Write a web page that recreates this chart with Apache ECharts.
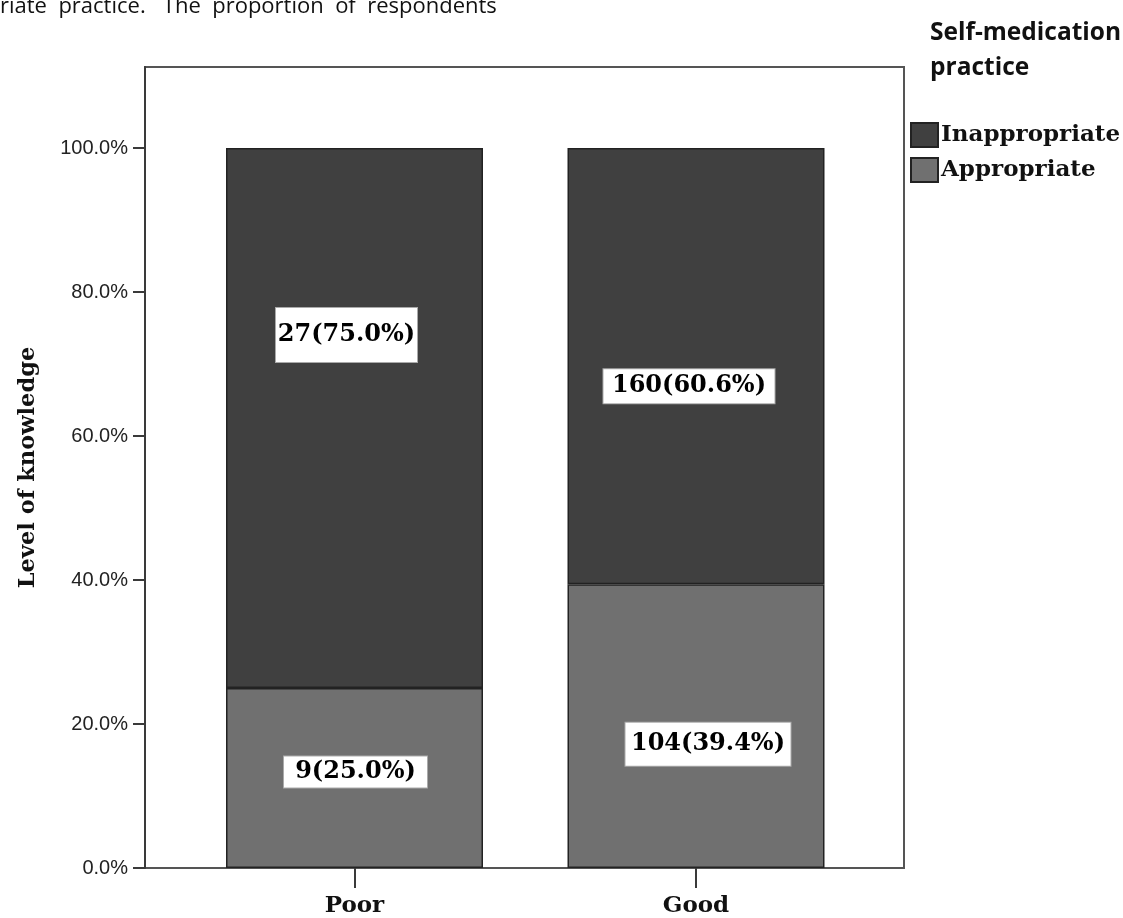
<!DOCTYPE html>
<html>
<head>
<meta charset="utf-8">
<script src="https://cdn.jsdelivr.net/npm/echarts@6/dist/echarts.min.js"></script>
<style>
  html, body { margin: 0; padding: 0; background: #fff; }
  #chart { width: 1123px; height: 918px; }
</style>
</head>
<body>
<div id="chart"></div>
<script>
// data
const categories = ['Poor', 'Good'];
const appropriatePct = [25.0, 39.4];
const inappropriatePct = [75.0, 60.6];
const appropriateN = [9, 104];
const inappropriateN = [27, 160];
const yTicks = [0, 20, 40, 60, 80, 100];

// label boxes were dragged around by hand in the original, so keep their placement here
const appLabelBox = [
  { offset: [1, -6], width: 143, lineHeight: 31 },
  { offset: [12, 18], width: 165, lineHeight: 43 }
];
const inappLabelBox = [
  { offset: [-8, -83], width: 141, lineHeight: 54 },
  { offset: [-7, 20], width: 171, lineHeight: 34 }
];

const serif = 'DejaVu Serif';
const axisColor = '#3a3a3a';
const yMax = 111.25;

const chart = echarts.init(document.getElementById('chart'));

function barData(pct, boxes) {
  return pct.map((v, i) => ({
    value: v,
    label: {
      offset: boxes[i].offset,
      width: boxes[i].width,
      lineHeight: boxes[i].lineHeight
    }
  }));
}

const labelBase = {
  show: true,
  position: 'inside',
  fontFamily: serif,
  fontWeight: 'bold',
  fontSize: 24,
  color: '#000',
  backgroundColor: '#fff',
  borderColor: '#aaa',
  borderWidth: 1,
  padding: 0,
  align: 'center',
  verticalAlign: 'middle'
};

const option = {
  animation: false,
  backgroundColor: '#fff',
  graphic: [
    {
      type: 'text',
      left: 0,
      top: -4,
      style: {
        text: 'riate  practice.   The  proportion  of  respondents',
        fontFamily: 'Open Sans',
        fontSize: 22,
        fill: '#111'
      }
    },
    {
      type: 'text',
      left: 930,
      top: 16,
      style: {
        text: 'Self-medication\npractice',
        fontFamily: 'Open Sans',
        fontWeight: 'bold',
        fontSize: 24.5,
        lineHeight: 35,
        fill: '#111'
      }
    }
  ],
  legend: {
    data: ['Inappropriate', 'Appropriate'],
    orient: 'vertical',
    left: 905,
    top: 117,
    itemWidth: 27,
    itemHeight: 24,
    itemGap: 9,
    icon: 'rect',
    textStyle: {
      fontFamily: serif,
      fontWeight: 'bold',
      fontSize: 23,
      color: '#111',
      padding: [0, 0, 0, -2]
    }
  },
  grid: [
    // outer frame with the y axis
    { left: 145, right: 219, top: 67, bottom: 50, show: true, borderColor: '#555', borderWidth: 2 },
    // bar area, narrower so the two bars sit where SPSS put them
    { left: 183.75, right: 256.25, top: 67, bottom: 50 }
  ],
  xAxis: [
    { type: 'value', gridIndex: 0, show: false, min: 0, max: 1 },
    {
      type: 'category',
      gridIndex: 1,
      data: categories,
      axisLine: { show: false },
      axisTick: {
        show: true,
        alignWithLabel: true,
        length: 20,
        lineStyle: { color: axisColor, width: 2 }
      },
      axisLabel: {
        margin: 27,
        fontFamily: serif,
        fontWeight: 'bold',
        fontSize: 23,
        color: '#111'
      }
    }
  ],
  yAxis: [
    {
      type: 'value',
      gridIndex: 0,
      min: 0,
      max: yMax,
      name: 'Level of knowledge',
      nameLocation: 'middle',
      nameGap: 105,
      nameTextStyle: {
        fontFamily: serif,
        fontWeight: 'bold',
        fontSize: 22.5,
        color: '#111'
      },
      splitLine: { show: false },
      axisLine: { show: true, lineStyle: { color: axisColor, width: 2 } },
      axisTick: {
        show: true,
        length: 12,
        customValues: yTicks,
        lineStyle: { color: axisColor, width: 2 }
      },
      axisLabel: {
        customValues: yTicks,
        formatter: v => v.toFixed(1) + '%',
        margin: 17,
        fontFamily: 'Liberation Sans',
        fontSize: 20,
        color: '#222'
      }
    },
    { type: 'value', gridIndex: 1, min: 0, max: yMax, show: false, splitLine: { show: false } }
  ],
  series: [
    {
      name: 'Appropriate',
      type: 'bar',
      xAxisIndex: 1,
      yAxisIndex: 1,
      stack: 'total',
      barWidth: 257,
      itemStyle: { color: '#707070', borderColor: '#222', borderWidth: 1.5 },
      label: Object.assign({}, labelBase, {
        formatter: p => appropriateN[p.dataIndex] + '(' + appropriatePct[p.dataIndex].toFixed(1) + '%)'
      }),
      data: barData(appropriatePct, appLabelBox)
    },
    {
      name: 'Inappropriate',
      type: 'bar',
      xAxisIndex: 1,
      yAxisIndex: 1,
      stack: 'total',
      barWidth: 257,
      itemStyle: { color: '#404040', borderColor: '#222', borderWidth: 1.5 },
      label: Object.assign({}, labelBase, {
        formatter: p => inappropriateN[p.dataIndex] + '(' + inappropriatePct[p.dataIndex].toFixed(1) + '%)'
      }),
      data: barData(inappropriatePct, inappLabelBox)
    }
  ]
};

chart.setOption(option);
</script>
</body>
</html>
